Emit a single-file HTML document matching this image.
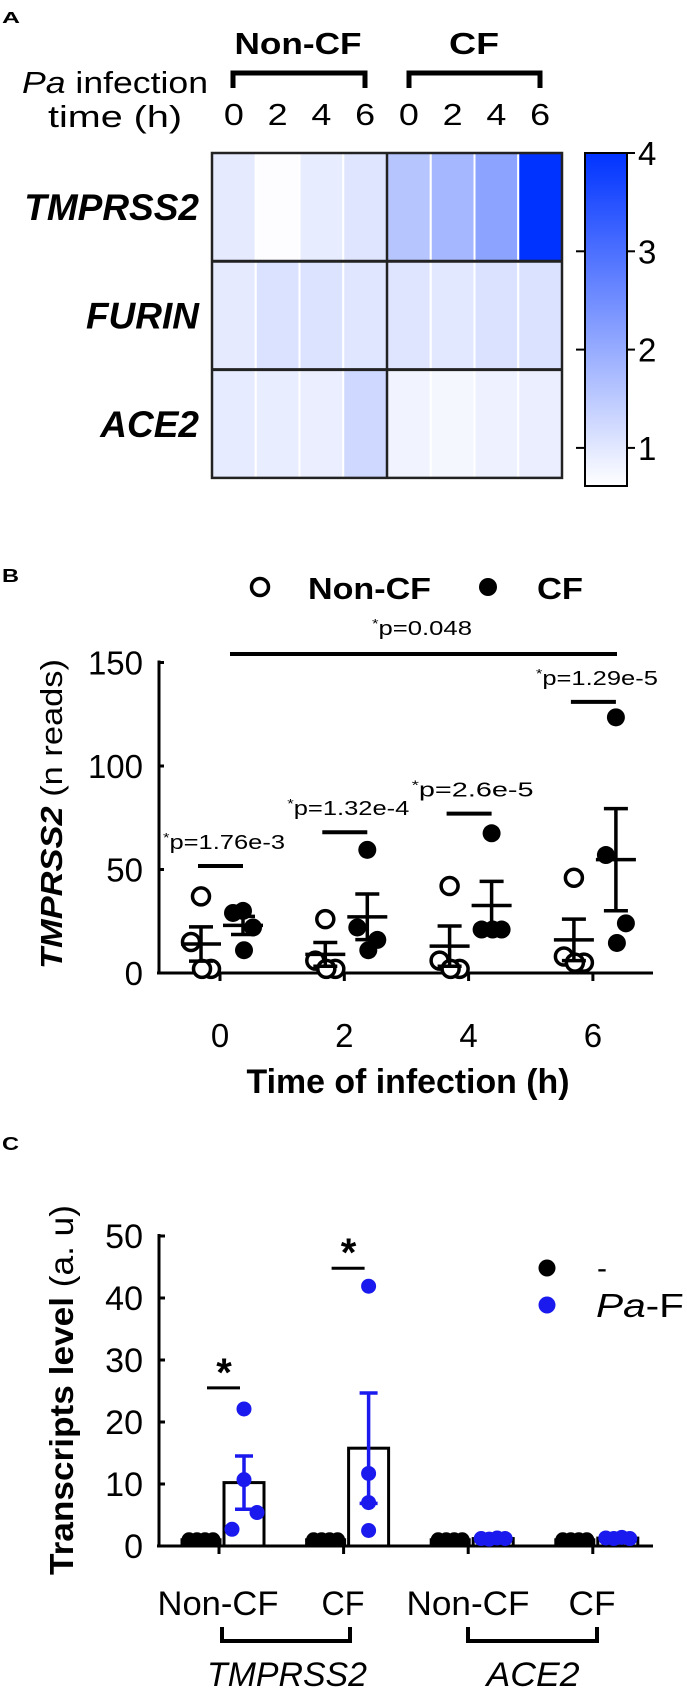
<!DOCTYPE html>
<html><head><meta charset="utf-8"><style>
html,body{margin:0;padding:0;background:#fff;}
svg{display:block;font-family:"Liberation Sans",Arial,sans-serif;}
</style></head><body>
<svg id="fig" width="687" height="1692" viewBox="0 0 687 1692" xmlns="http://www.w3.org/2000/svg">
<defs>
<linearGradient id="cbar" x1="0" y1="1" x2="0" y2="0">
<stop offset="0" stop-color="#ffffff"/><stop offset="1" stop-color="#0033ff"/>
</linearGradient>
</defs>
<!-- Panel A -->
<g>
<text x="2" y="23" font-size="16" font-weight="bold" textLength="18" lengthAdjust="spacingAndGlyphs">A</text>
<text x="298" y="54" font-size="31" font-weight="bold" text-anchor="middle" textLength="127" lengthAdjust="spacingAndGlyphs">Non-CF</text>
<text x="474" y="54" font-size="31" font-weight="bold" text-anchor="middle" textLength="50" lengthAdjust="spacingAndGlyphs">CF</text>
<path d="M233,88 V73 H365 V88" fill="none" stroke="#000" stroke-width="5"/>
<path d="M409,88 V73 H540 V88" fill="none" stroke="#000" stroke-width="5"/>
<text x="22" y="93" font-size="31" textLength="186" lengthAdjust="spacingAndGlyphs"><tspan font-style="italic">Pa</tspan> infection</text>
<text x="48" y="127" font-size="31" textLength="134" lengthAdjust="spacingAndGlyphs">time (h)</text>
<g id="heatCols"></g>
<g id="heat"></g>
<g id="heatRows"></g>
<rect x="585" y="153" width="42" height="333" fill="url(#cbar)" stroke="#000" stroke-width="2"/>
<g id="cbTicks"></g>
</g>
<!-- Panel B -->
<g>
<text x="2" y="582" font-size="18" font-weight="bold" textLength="17" lengthAdjust="spacingAndGlyphs">B</text>
<circle cx="260" cy="587" r="8.5" fill="#fff" stroke="#000" stroke-width="3.5"/>
<text x="308" y="599" font-size="31" font-weight="bold" textLength="123" lengthAdjust="spacingAndGlyphs">Non-CF</text>
<circle cx="488" cy="587" r="9" fill="#000"/>
<text x="537" y="599" font-size="31" font-weight="bold" textLength="46" lengthAdjust="spacingAndGlyphs">CF</text>
<text x="422" y="635" font-size="20" text-anchor="middle" textLength="100" lengthAdjust="spacingAndGlyphs"><tspan font-size="13" dy="-7">*</tspan><tspan dy="7">p=0.048</tspan></text>
<line x1="230" y1="654" x2="617" y2="654" stroke="#000" stroke-width="4"/>
<text transform="translate(62,814) rotate(-90)" font-size="31" text-anchor="middle" textLength="310" lengthAdjust="spacingAndGlyphs"><tspan font-weight="bold" font-style="italic">TMPRSS2</tspan> (n reads)</text>
<text x="408" y="1093" font-size="34" font-weight="bold" text-anchor="middle" textLength="323" lengthAdjust="spacingAndGlyphs">Time of infection (h)</text>
<g id="axesB"></g>
<g id="marksB"></g>
</g>
<!-- Panel C -->
<g>
<text x="2" y="1150" font-size="18" font-weight="bold" textLength="17" lengthAdjust="spacingAndGlyphs">C</text>
<text transform="translate(73,1390) rotate(-90)" font-size="33" text-anchor="middle" textLength="370" lengthAdjust="spacingAndGlyphs"><tspan font-weight="bold">Transcripts level</tspan> (a. u)</text>
<circle cx="547" cy="1268" r="8.5" fill="#000"/>
<text x="597" y="1278" font-size="30">-</text>
<circle cx="547" cy="1305" r="8.5" fill="#1a1aee"/>
<text x="596" y="1317" font-size="33" textLength="88" lengthAdjust="spacingAndGlyphs"><tspan font-style="italic">Pa</tspan>-F</text>
<g id="axesC"></g>
<g id="marksC"></g>
<text x="218" y="1615" font-size="34" text-anchor="middle" textLength="121" lengthAdjust="spacingAndGlyphs">Non-CF</text>
<text x="343" y="1615" font-size="34" text-anchor="middle" textLength="43" lengthAdjust="spacingAndGlyphs">CF</text>
<text x="468" y="1615" font-size="34" text-anchor="middle" textLength="123" lengthAdjust="spacingAndGlyphs">Non-CF</text>
<text x="592" y="1615" font-size="34" text-anchor="middle" textLength="47" lengthAdjust="spacingAndGlyphs">CF</text>
<path d="M222,1627 V1641 H350 V1627" fill="none" stroke="#000" stroke-width="4"/>
<path d="M468,1627 V1641 H597 V1627" fill="none" stroke="#000" stroke-width="4"/>
<text x="287" y="1686" font-size="34" font-style="italic" text-anchor="middle" textLength="160" lengthAdjust="spacingAndGlyphs">TMPRSS2</text>
<text x="533" y="1686" font-size="34" font-style="italic" text-anchor="middle" textLength="93" lengthAdjust="spacingAndGlyphs">ACE2</text>
</g>
<script>
// ---------- Panel A data ----------
const heatGenes = ['TMPRSS2', 'FURIN', 'ACE2'];
const heatTimes = ['0', '2', '4', '6', '0', '2', '4', '6'];
const heatTmprss2 = [0.96, 0.65, 0.93, 1.05, 1.58, 1.82, 2.15, 4.0];
const heatFurin = [0.96, 1.1, 1.08, 1.03, 1.05, 1.0, 1.1, 1.1];
const heatAce2 = [0.95, 0.92, 0.9, 1.25, 0.8, 0.75, 0.85, 0.9];
const colorbarTicks = [1, 2, 3, 4];
// ---------- Panel B data ----------
const timesB = ['0', '2', '4', '6'];
const nonCF = [[37, 15, 2, 2], [26, 6, 2, 2], [42, 6, 2, 2], [46, 8, 5, 5]];
const cfB = [[30, 29, 22, 11], [59.5, 22, 16, 11], [67.5, 21, 21, 21], [123.5, 57, 24, 14.5]];
const pLabels = ['p=1.76e-3', 'p=1.32e-4', 'p=2.6e-5', 'p=1.29e-5'];
const pBarValues = [51.7, 68, 77, 131];
const ticksB = [0, 50, 100, 150];
// ---------- Panel C data ----------
const groupsC = ['TMPRSS2 Non-CF', 'TMPRSS2 CF', 'ACE2 Non-CF', 'ACE2 CF'];
const ctrlC = [[1, 1, 1, 1], [1, 1, 1, 1], [1, 1, 1, 1], [1, 1, 1, 1]];
const pafC = [[22.1, 10.7, 5.4, 2.7], [41.9, 11.7, 7, 2.5], [1.2, 1.1, 1.3, 1.2], [1.3, 1.2, 1.4, 1.2]];
const sigC = [25.5, 44.8, null, null];
const ticksC = [0, 10, 20, 30, 40, 50];

const NS = 'http://www.w3.org/2000/svg';
function mk(parent, tag, attrs) {
  const e = document.createElementNS(NS, tag);
  for (const k in attrs) e.setAttribute(k, attrs[k]);
  parent.appendChild(e);
  return e;
}
const mean = a => a.reduce((s, v) => s + v, 0) / a.length;
const sem = a => { const m = mean(a); return Math.sqrt(a.reduce((s, v) => s + (v - m) * (v - m), 0) / (a.length - 1)) / Math.sqrt(a.length); };

// ---------- Panel A ----------
(function () {
  const x0 = 212, colW = 43.75, y0 = 153, rowH = 108.3;
  const vmin = 0.62, vmax = 4;
  const color = v => { let t = (v - vmin) / (vmax - vmin); t = Math.max(0, Math.min(1, t));
    return `rgb(${Math.round(255 * (1 - t))},${Math.round(255 - 204 * t)},255)`; };
  const yCb = v => 153 + (4 - v) * 98.3;
  const heat = document.getElementById('heat');
  const rows = [heatTmprss2, heatFurin, heatAce2];
  rows.forEach((row, r) => {
    row.forEach((v, c) => {
      const e = mk(heat, 'rect', { x: x0 + c * colW, y: y0 + r * rowH, width: colW, height: rowH, fill: color(v), stroke: '#fff', 'stroke-width': 2 });
      
      
    });
    const t = mk(document.getElementById('heatRows'), 'text', { x: 199, y: y0 + r * rowH + rowH / 2 + 13, 'font-size': 37, 'font-weight': 'bold', 'font-style': 'italic', 'text-anchor': 'end' });
    t.textContent = heatGenes[r];
    
    
  });
  const W = colW * 8, H = rowH * 3;
  mk(heat, 'rect', { x: x0, y: y0, width: W, height: H, fill: 'none', stroke: '#222', 'stroke-width': 2.5 });
  mk(heat, 'line', { x1: x0 + 4 * colW, y1: y0, x2: x0 + 4 * colW, y2: y0 + H, stroke: '#222', 'stroke-width': 2.5 });
  for (let r = 1; r < 3; r++) mk(heat, 'line', { x1: x0, y1: y0 + r * rowH, x2: x0 + W, y2: y0 + r * rowH, stroke: '#222', 'stroke-width': 3 });
  heatTimes.forEach((lab, c) => {
    const t = mk(document.getElementById('heatCols'), 'text', { x: x0 + c * colW + colW / 2, y: 125, 'font-size': 31, 'text-anchor': 'middle', textLength: 20, lengthAdjust: 'spacingAndGlyphs' });
    t.textContent = lab;
    
    
  });
  const cb = document.getElementById('cbTicks');
  colorbarTicks.forEach(v => {
    const y = yCb(v);
    if (v < 4) mk(cb, 'line', { x1: 576, y1: y, x2: 585, y2: y, stroke: '#000', 'stroke-width': 2 });
    mk(cb, 'line', { x1: 627, y1: y, x2: 635, y2: y, stroke: '#000', 'stroke-width': 2 });
    const t = mk(cb, 'text', { x: 638, y: y + 12, 'font-size': 33 });
    t.textContent = v;
    
    
  });
})();

// ---------- Panel B ----------
(function () {
  const yB = v => 973 - 2.07 * v;
  const xB = i => 220 + 124.3 * i;
  const ax = document.getElementById('axesB');
  mk(ax, 'line', { x1: 159, y1: yB(150) - 2, x2: 159, y2: yB(0), stroke: '#000', 'stroke-width': 3 });
  mk(ax, 'line', { x1: 157, y1: yB(0), x2: 653, y2: yB(0), stroke: '#000', 'stroke-width': 3 });
  ticksB.forEach(v => {
    mk(ax, 'line', { x1: 159, y1: yB(v), x2: 164, y2: yB(v), stroke: '#000', 'stroke-width': 3 });
    const t = mk(ax, 'text', { x: 143, y: yB(v) + 12, 'font-size': 33, 'text-anchor': 'end' });
    t.textContent = v;
    
    
  });
  timesB.forEach((lab, i) => {
    mk(ax, 'line', { x1: xB(i), y1: yB(0), x2: xB(i), y2: yB(0) + 8, stroke: '#000', 'stroke-width': 3 });
    const t = mk(ax, 'text', { x: xB(i), y: 1047, 'font-size': 33, 'text-anchor': 'middle' });
    t.textContent = lab;
    
    
  });
  const g = document.getElementById('marksB');
  const jit = [0, -10, 10, 1];
  function series(vals, cx, filled, name) {
    const m = mean(vals), s = sem(vals);
    vals.forEach((v, k) => {
      const c = mk(g, 'circle', { cx: cx + jit[k], cy: yB(v), r: filled ? 9 : 8.5, fill: filled ? '#000' : '#fff', stroke: '#000', 'stroke-width': filled ? 0 : 3.5 });
      
      
    });
    const eb = mk(g, 'path', { d: `M${cx - 20},${yB(m)} H${cx + 20} M${cx},${yB(m + s)} V${yB(m - s)} M${cx - 12},${yB(m + s)} H${cx + 12} M${cx - 12},${yB(m - s)} H${cx + 12}`, stroke: '#000', 'stroke-width': 3.5, fill: 'none' });
    
    
  }
  timesB.forEach((lab, i) => {
    series(nonCF[i], xB(i) - 19, false, 'non-cf-' + lab + 'h');
    series(cfB[i], xB(i) + 23, true, 'cf-' + lab + 'h');
    const y = yB(pBarValues[i]);
    const l = mk(g, 'line', { x1: xB(i) - 22, y1: y, x2: xB(i) + 23, y2: y, stroke: '#000', 'stroke-width': 4 });
    
    
    const t = mk(g, 'text', { x: xB(i) + 4, y: y - 17, 'font-size': 20, 'text-anchor': 'middle', textLength: 122, lengthAdjust: 'spacingAndGlyphs' });
    const s1 = mk(t, 'tspan', { 'font-size': 13, dy: -7 });
    s1.textContent = '*';
    const s2 = mk(t, 'tspan', { dy: 7 });
    s2.textContent = pLabels[i];
    
    
  });
})();

// ---------- Panel C ----------
(function () {
  const yC = v => 1546 - 6.2 * v;
  const xC = i => 219 + 124.6 * i;
  const ax = document.getElementById('axesC');
  mk(ax, 'line', { x1: 159, y1: yC(50) - 2, x2: 159, y2: yC(0), stroke: '#000', 'stroke-width': 3 });
  mk(ax, 'line', { x1: 157, y1: yC(0), x2: 653, y2: yC(0), stroke: '#000', 'stroke-width': 3 });
  ticksC.forEach(v => {
    mk(ax, 'line', { x1: 159, y1: yC(v), x2: 165, y2: yC(v), stroke: '#000', 'stroke-width': 3 });
    const t = mk(ax, 'text', { x: 143, y: yC(v) + 12, 'font-size': 34, 'text-anchor': 'end' });
    t.textContent = v;
    
    
  });
  groupsC.forEach((n, i) => mk(ax, 'line', { x1: xC(i), y1: yC(0), x2: xC(i), y2: yC(0) + 8, stroke: '#000', 'stroke-width': 3 }));
  const g = document.getElementById('marksC');
  const spread = [-12, -4, 4, 12];
  const jitPa = [[0, 0, 13, -12], [0, 0, 0, 0], [-12, -4, 4, 12], [-12, -4, 4, 12]];
  groupsC.forEach((n, i) => {
    const slug = n.toLowerCase().replace(/ /g, '-');
    const cx0 = xC(i) - 18, cx1 = xC(i) + 25;
    const m0 = mean(ctrlC[i]);
    const b0 = mk(g, 'rect', { x: cx0 - 19, y: yC(m0), width: 38, height: yC(0) - yC(m0), fill: '#fff', stroke: '#000', 'stroke-width': 3 });
    
    
    ctrlC[i].forEach((v, k) => {
      const c = mk(g, 'circle', { cx: cx0 + spread[k], cy: yC(v), r: 7.5, fill: '#000' });
      
      
    });
    const m1 = mean(pafC[i]), s1 = sem(pafC[i]);
    const b1 = mk(g, 'rect', { x: cx1 - 20, y: yC(m1), width: 40, height: yC(0) - yC(m1), fill: '#fff', stroke: '#000', 'stroke-width': 3 });
    
    
    pafC[i].forEach((v, k) => {
      const c = mk(g, 'circle', { cx: cx1 + jitPa[i][k], cy: yC(v), r: 7.5, fill: '#1a1aee' });
      
      
    });
    if (m1 > 3) {
      const eb = mk(g, 'path', { d: `M${cx1},${yC(m1 + s1)} V${yC(m1 - s1)} M${cx1 - 9},${yC(m1 + s1)} H${cx1 + 9} M${cx1 - 9},${yC(m1 - s1)} H${cx1 + 9}`, stroke: '#1a1aee', 'stroke-width': 3.5, fill: 'none' });
      
      
    }
    if (sigC[i] !== null) {
      const y = yC(sigC[i]);
      const l = mk(g, 'line', { x1: xC(i) - 12, y1: y, x2: xC(i) + 21, y2: y, stroke: '#000', 'stroke-width': 3 });
      
      
      const t = mk(g, 'text', { x: xC(i) + 5, y: y - 2, 'font-size': 40, 'font-weight': 'bold', 'text-anchor': 'middle' });
      t.textContent = '*';
      
      
    }
  });
})();
</script>
</svg>
</body></html>
